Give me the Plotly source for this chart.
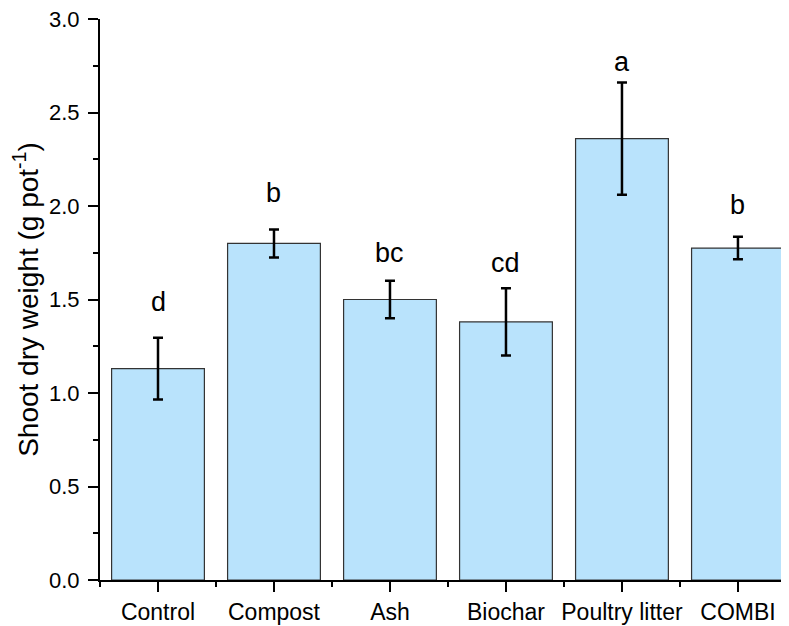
import plotly.graph_objects as go

categories = ["Control", "Compost", "Ash", "Biochar", "Poultry litter", "COMBI"]
means = [1.13, 1.80, 1.50, 1.38, 2.36, 1.775]
errors = [0.165, 0.075, 0.10, 0.18, 0.30, 0.06]
letters = ["d", "b", "bc", "cd", "a", "b"]
letter_y = [1.433, 2.016, 1.695, 1.642, 2.717, 1.952]  # baseline height of each letter
y_ticks = [0.0, 0.5, 1.0, 1.5, 2.0, 2.5, 3.0]

xpos = list(range(len(categories)))
FONT = "Liberation Sans, Arial"

fig = go.Figure()
fig.add_trace(go.Bar(
    x=xpos, y=means, width=0.8,
    marker=dict(color="#B9E3FC", line=dict(color="#333333", width=1.2)),
    error_y=dict(type="data", array=errors, visible=True, color="black", thickness=2.5, width=5),
    showlegend=False,
))

for xi, ly, lt in zip(xpos, letter_y, letters):
    fig.add_annotation(x=xi, y=ly, text=lt, showarrow=False, yanchor="bottom", yshift=-7,
                       font=dict(family=FONT, size=27, color="black"))

fig.update_layout(
    width=789, height=626,
    margin=dict(l=92, r=8, t=11, b=54),
    plot_bgcolor="white", paper_bgcolor="white",
    xaxis=dict(
        range=[-0.5, 5.44], tickvals=xpos, ticktext=categories, automargin=False,
        showline=True, linecolor="black", linewidth=2, ticks="outside", ticklen=10, tickwidth=2,
        tickcolor="black", showgrid=False, zeroline=False,
        tickfont=dict(family=FONT, size=23, color="black"),
        minor=dict(tick0=0.5, dtick=1, ticks="outside", ticklen=5, tickwidth=2, tickcolor="black", showgrid=False),
    ),
    yaxis=dict(
        range=[0, 3], tickvals=y_ticks, ticktext=[f"{v:.1f}" for v in y_ticks], automargin=False,
        showline=True, linecolor="black", linewidth=2, ticks="outside", ticklen=10, tickwidth=2,
        tickcolor="black", showgrid=False, zeroline=False, ticklabeloverflow="allow",
        tickfont=dict(family=FONT, size=22, color="black"), ticklabelstandoff=4,
        minor=dict(tick0=0.25, dtick=0.5, ticks="outside", ticklen=5, tickwidth=2, tickcolor="black", showgrid=False),
        title=dict(text="Shoot dry weight (g pot<sup>-1</sup>)",
                   font=dict(family=FONT, size=28, color="black"), standoff=10),
    ),
)

fig.write_html("out.html")
